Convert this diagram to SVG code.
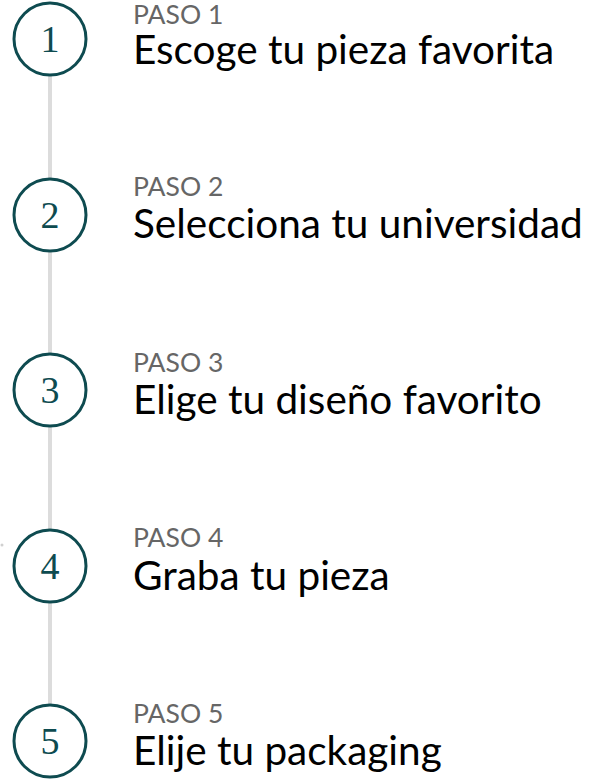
<svg xmlns="http://www.w3.org/2000/svg" width="596" height="780" viewBox="0 0 596 780">
<style>
.ring{fill:#fff;stroke:#0e4b50;stroke-width:3}
.num{font-family:"Liberation Serif","Noto Serif",serif;font-size:38px;fill:#0e4b50;text-anchor:middle}
.paso{font-family:Lato,"Noto Sans",sans-serif;font-size:26.5px;fill:#666}
.title{font-family:Lato,"Noto Sans",sans-serif;font-size:40.5px;fill:#000}
</style>
<rect width="596" height="780" fill="#fff"/>
<g id="connectors">
<line x1="50" y1="70" x2="50" y2="710" stroke="#dcdcdc" stroke-width="4"/>
</g>
<circle cx="2" cy="545" r="1.5" fill="#d0d0d0"/>
<g id="step1">
<circle class="ring" cx="50" cy="39" r="36"/>
<text class="num" x="50" y="52">1</text>
<text class="paso" x="133" y="24">PASO 1</text>
<text class="title" x="133" y="64">Escoge tu pieza favorita</text>
</g>
<g id="step2">
<circle class="ring" cx="50" cy="215" r="36"/>
<text class="num" x="50" y="228">2</text>
<text class="paso" x="133" y="196">PASO 2</text>
<text class="title" x="133" y="238">Selecciona tu universidad</text>
</g>
<g id="step3">
<circle class="ring" cx="50" cy="390" r="36"/>
<text class="num" x="50" y="403">3</text>
<text class="paso" x="133" y="372">PASO 3</text>
<text class="title" x="133" y="414">Elige tu diseño favorito</text>
</g>
<g id="step4">
<circle class="ring" cx="50" cy="566" r="36"/>
<text class="num" x="50" y="579">4</text>
<text class="paso" x="133" y="547">PASO 4</text>
<text class="title" x="133" y="590">Graba tu pieza</text>
</g>
<g id="step5">
<circle class="ring" cx="50" cy="741" r="36"/>
<text class="num" x="50" y="754">5</text>
<text class="paso" x="133" y="723">PASO 5</text>
<text class="title" x="133" y="765">Elije tu packaging</text>
</g>
</svg>
